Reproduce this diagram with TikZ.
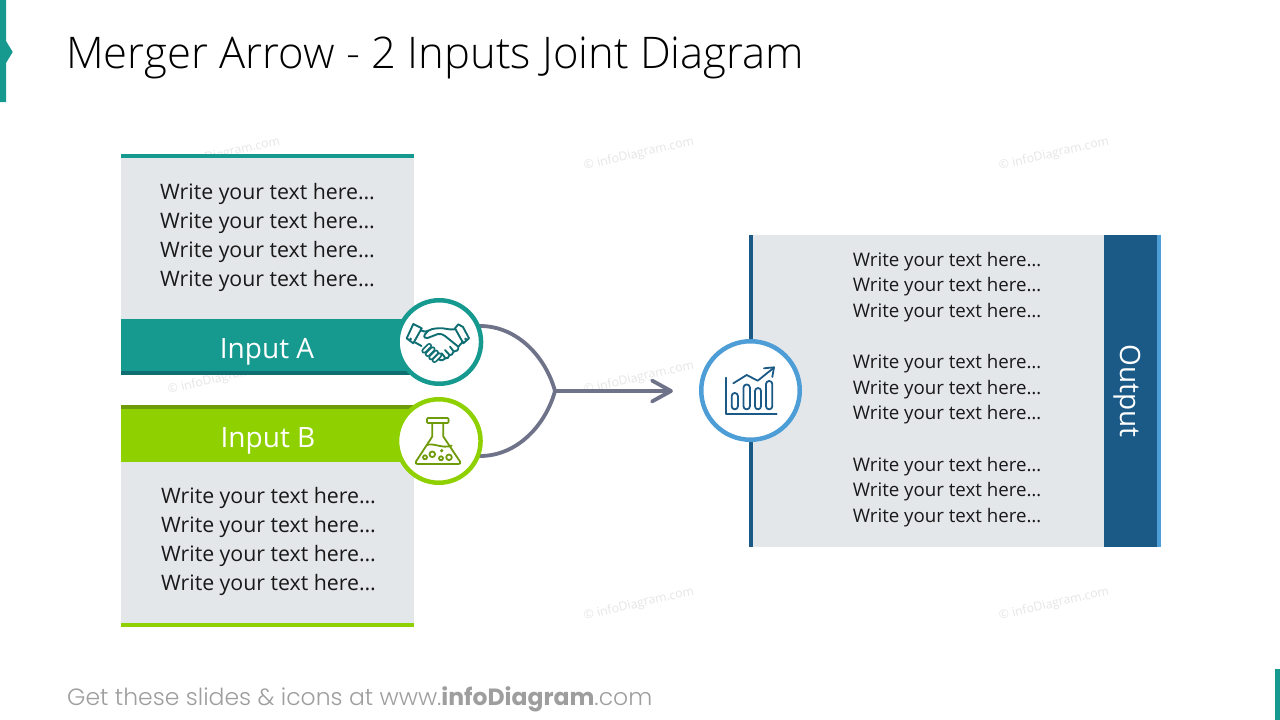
\documentclass[tikz,border=0pt]{standalone}
\usepackage{fontspec}
\setmainfont{Open Sans}
\newfontfamily\titlefont{Open Sans Light}
\newfontfamily\footfont{Poppins Light}
\newfontfamily\footbold{Poppins}
\usetikzlibrary{calc}
\definecolor{teal}{HTML}{16998F}
\definecolor{tealdark}{HTML}{0F6E72}
\definecolor{lime}{HTML}{8FD100}
\definecolor{limedark}{HTML}{6F9A0A}
\definecolor{panel}{HTML}{E4E7EA}
\definecolor{navy}{HTML}{1B5A87}
\definecolor{sky}{HTML}{4D9DD6}
\definecolor{wire}{HTML}{6F7389}
\definecolor{mark}{HTML}{E6E6E6}
\tikzset{
  x=1pt,y=-1pt,
  bodytext/.style={font=\fontsize{21.3}{29}\selectfont,align=left,text=black!90,inner sep=0pt},
  smalltext/.style={font=\fontsize{18.7}{25.6}\selectfont,align=left,text=black!90,inner sep=0pt},
  bartext/.style={font=\fontsize{28}{30}\selectfont,text=white,inner sep=0pt},
  ring/.style={circle,draw=#1,line width=4.5pt,fill=white,inner sep=0pt,minimum size=83.5pt},
  wirepath/.style={draw=wire,line width=3.8pt},
  iconA/.style={draw=tealdark,line width=1.9pt,line join=round,line cap=round},
  iconB/.style={draw=limedark,line width=1.8pt,line join=round,line cap=round},
  iconC/.style={draw=navy,line width=1.8pt,line join=round,line cap=round},
  watermark/.style={font=\fontsize{12.3}{13}\selectfont,text=mark,rotate=13,inner sep=0pt}
}
\newcommand{\fingercap}[1]{%
  \draw[line width=5.4pt] ($(#1)+(-2.6,2.6)$) -- ($(#1)+(2.6,-2.6)$);
  \draw[white,line width=2pt] ($(#1)+(-2.6,2.6)$) -- ($(#1)+(2.6,-2.6)$);}
\begin{document}
\begin{tikzpicture}
\useasboundingbox (0,0) rectangle (1280,720);
\fill[white] (0,0) rectangle (1280,720);
% side accents
\fill[teal] (0,0) -- (6,0) -- (6,41) -- (12.7,52) -- (6,63) -- (6,102) -- (0,102) -- cycle;
\fill[teal] (1275,669) rectangle (1280,720);
% title and footer
\node[anchor=west,inner sep=0pt,font=\titlefont\fontsize{43.6}{48}\selectfont,text=black] (title) at (66,57.5) {Merger Arrow - 2 Inputs Joint Diagram};
\node[anchor=west,inner sep=0pt,font=\footfont\fontsize{23.5}{26}\selectfont,text=black!38] (foot) at (67,699.5) {Get these slides \& icons at www.{\footbold\bfseries infoDiagram}.com};
% watermarks
\node[watermark] (w1) at (225,154) {© infoDiagram.com};
\node[watermark] (w2) at (639,154) {© infoDiagram.com};
\node[watermark] (w3) at (1054,154) {© infoDiagram.com};
\node[watermark] (w4) at (223,378) {© infoDiagram.com};
\node[watermark] (w5) at (639,378) {© infoDiagram.com};
\node[watermark] (w6) at (639,604) {© infoDiagram.com};
\node[watermark] (w7) at (1054,604) {© infoDiagram.com};
% left panels
\fill[panel] (121,154) rectangle (414,319);
\fill[teal] (121,154) rectangle (414,158);
\fill[teal] (121,319) rectangle (414,375);
\fill[tealdark] (121,371) rectangle (414,375);
\fill[lime] (121,405) rectangle (414,462);
\fill[limedark] (121,405) rectangle (414,409);
\fill[panel] (121,462) rectangle (414,627);
\fill[lime] (121,623) rectangle (414,627);
\node[bodytext] (ta) at (267.5,237.5) {Write your text here…\\Write your text here…\\Write your text here…\\Write your text here…};
\node[bodytext] (tb) at (268.5,541.5) {Write your text here…\\Write your text here…\\Write your text here…\\Write your text here…};
\node[bartext] (la) at (267,352) {Input A};
\node[bartext] (lb) at (268,440.5) {Input B};
% output panel
\fill[panel] (749,235) rectangle (1104,547);
\fill[navy] (749,235) rectangle (753,547);
\fill[navy] (1104,235) rectangle (1157,547);
\fill[sky] (1157,235) rectangle (1161,547);
\node[smalltext] (t1) at (947,287) {Write your text here…\\Write your text here…\\Write your text here…};
\node[smalltext] (t2) at (947,389.5) {Write your text here…\\Write your text here…\\Write your text here…};
\node[smalltext] (t3) at (947,492) {Write your text here…\\Write your text here…\\Write your text here…};
\node[bartext,rotate=-90] (lo) at (1127,391) {Output};
% connectors
\coordinate (ca0) at (439.3,342);
\coordinate (cb0) at (438.8,441);
\coordinate (join) at (555,391);
\coordinate (tip) at (671,391);
\draw[wirepath] (ca0 |- 0,326) -- (480,326) .. controls (518,326) and (546,358) .. (join);
\draw[wirepath] (cb0 |- 0,456) -- (480,456) .. controls (518,456) and (546,424) .. (join);
\draw[wirepath] (join) -- (tip);
\draw[wirepath,line cap=round,line join=round] (652,380.5) -- (tip) -- (652,401.5);
% circles
\node[ring=teal] (ca) at (ca0) {};
\node[ring=lime] (cb) at (cb0) {};
\node[ring=sky,minimum size=98.5pt] (cc) at (750.5,390.5) {};
% handshake icon
\begin{scope}[iconA]
\draw (413.3,324) -- (421.7,328.3) -- (413.3,343.3) -- (406.7,338.3) -- cycle;
\draw (458.3,324.3) -- (463,327) -- (469,338.3) -- (463.3,343.3) -- (455,328.3) -- cycle;
\draw (454.3,329.3) .. controls (447,330) and (444,327.5) .. (438.3,328.3) .. controls (433,328.5) and (430,329.5) .. (428.3,330.7) -- (424.8,334.5) .. controls (423.5,337) and (425,339) .. (427.5,338) -- (438,334) .. controls (441,333.5) and (443,334.5) .. (445,336) -- (458.3,346.7) .. controls (459,350) and (456,352) .. (453.5,351.7) .. controls (453,354.5) and (451,355.5) .. (449.5,355) .. controls (449,358) and (447,358.8) .. (445.5,358.3) .. controls (444,360.5) and (441,361) .. (438,359);
\draw (421.7,330.7) .. controls (425,332) and (427,331.5) .. (428.3,330.7);
\draw (415.3,342.5) -- (421.5,346);
\draw (458.3,346.7) -- (463,341.5);
\draw (450,346.7) -- (453.8,351.5) (445,350) -- (449.5,355) (441.7,353.3) -- (445.5,358.3);
\fingercap{426.7,348.3}
\fingercap{430.2,351.7}
\fingercap{433.6,355}
\fingercap{437,357.7}
\fill[tealdark,draw=none] (410.7,339) circle (1.5pt) (465.5,339) circle (1.5pt);
\end{scope}
% flask icon
\begin{scope}[iconB]
\draw (428,418) -- (447.5,418) .. controls (449,418) and (449,423) .. (447.5,423) -- (428,423) .. controls (426.5,423) and (426.5,418) .. (428,418) -- cycle;
\draw (432.3,423) -- (432.3,436.5) -- (416,461.5) .. controls (415,463.5) and (416,464) .. (418,464) -- (458,464) .. controls (460,464) and (461,463.5) .. (460,461.5) -- (443.3,436.5) -- (443.3,423);
\draw (426.7,445) .. controls (434,442.5) and (442,449) .. (451.7,445.7);
\draw (425,457.3) circle (2pt) (432.3,454.3) circle (2.8pt) (441,458.3) circle (2pt) (449,457.3) circle (2.8pt);
\fill[limedark,draw=none] (441.7,450.7) circle (1.8pt);
\end{scope}
% chart icon
\begin{scope}[iconC]
\draw (725.7,377.7) -- (725.7,414) -- (776.7,414);
\draw (733.3,383.3) -- (746.7,375) -- (757.7,380.7) -- (773.5,368);
\draw (764,368.3) -- (774,367.3) -- (772.3,377);
\draw[rounded corners=3pt] (731.7,393) rectangle (737.9,409.3);
\draw[rounded corners=3pt] (743.5,384.5) rectangle (749.9,409.3);
\draw[rounded corners=3pt] (755,388) rectangle (761,409.3);
\draw[rounded corners=3pt] (766,381) rectangle (772.3,409.3);
\end{scope}
\end{tikzpicture}
\end{document}
